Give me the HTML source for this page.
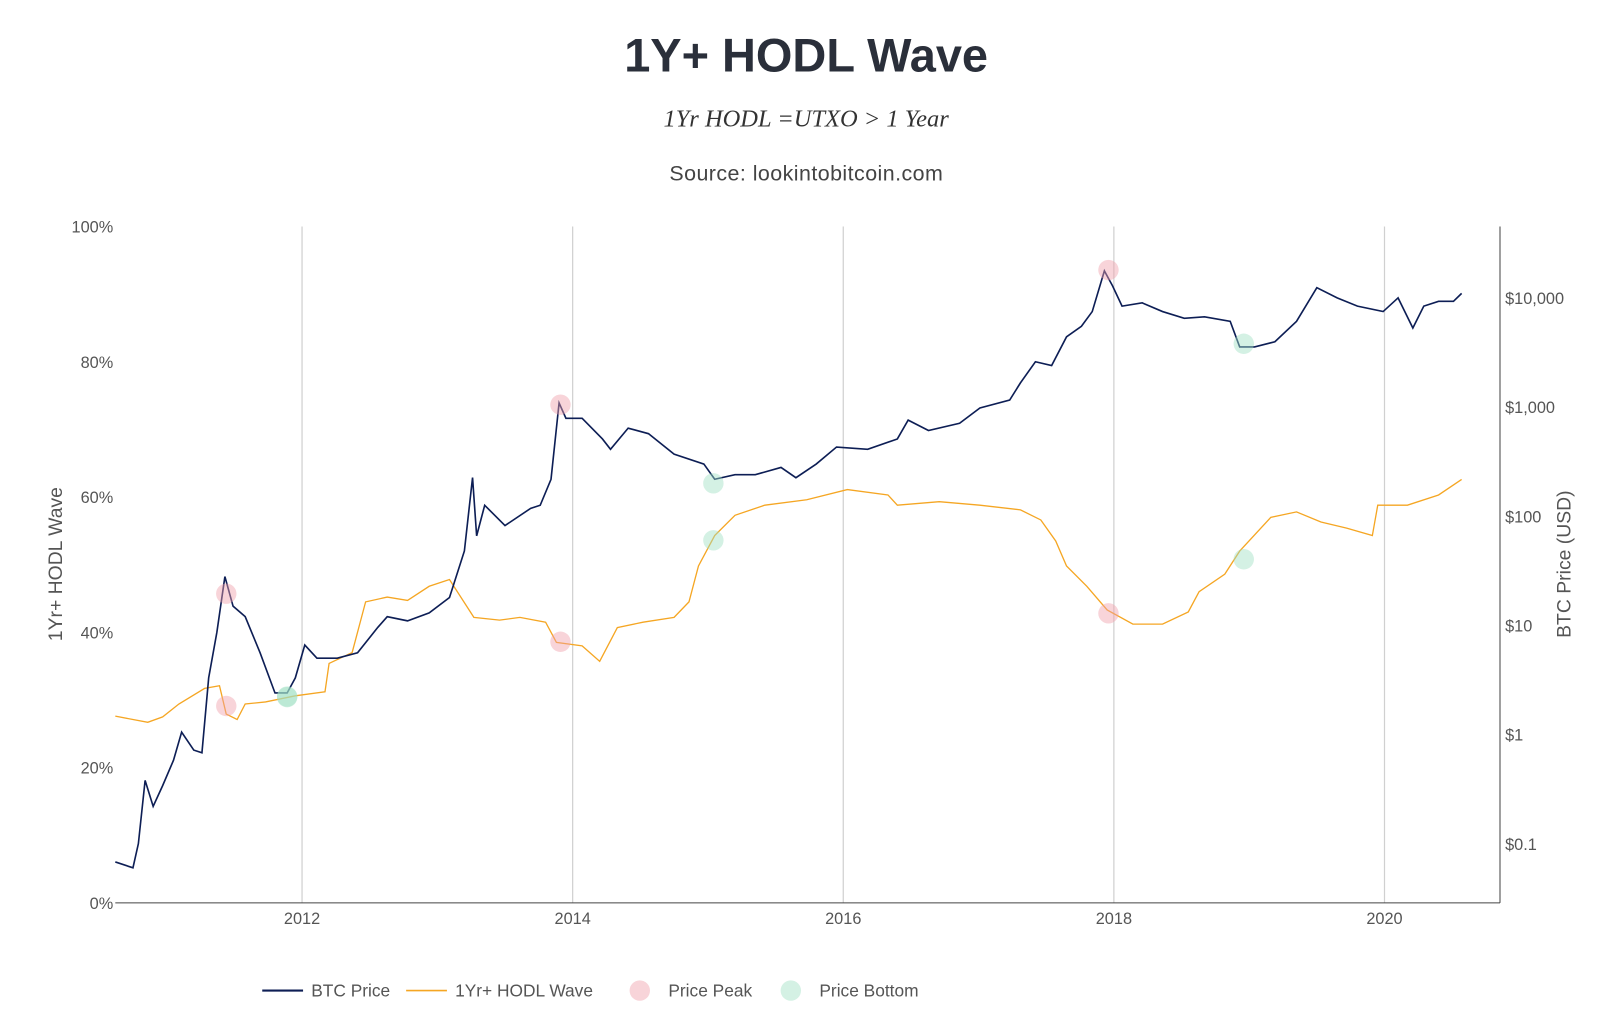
<!DOCTYPE html>
<html><head><meta charset="utf-8"><style>
body{margin:0;background:#fff;width:1600px;height:1013px;overflow:hidden;font-family:"Liberation Sans",sans-serif}
svg{position:absolute;left:0;top:0}
</style></head><body>
<svg id="chart" width="1600" height="1013" viewBox="0 0 1568 993" preserveAspectRatio="none">
<text x="790" y="70" text-anchor="middle" font-size="46" font-weight="bold" fill="#2a2f3a">1Y+ HODL Wave</text>
<text x="790" y="124" text-anchor="middle" font-size="24" font-style="italic" font-family="Liberation Serif,serif" fill="#333">1Yr HODL =UTXO &gt; 1 Year</text>
<text x="790" y="177" text-anchor="middle" font-size="21" fill="#444" textLength="268">Source: lookintobitcoin.com</text>
<g id="grid"></g><g id="axes"></g><g id="marks"></g><g id="legend"></g>
</svg>
<script>
const xTicks=[2012,2014,2016,2018,2020];
const yTicks=[0,20,40,60,80,100];
const priceTicks=[0.1,1,10,100,1000,10000];
const priceTickLabels=["$0.1","$1","$10","$100","$1,000","$10,000"];
const priceDates=[2010.62,2010.75,2010.79,2010.84,2010.90,2010.97,2011.05,2011.11,2011.20,2011.26,2011.31,2011.37,2011.43,2011.49,2011.58,2011.69,2011.80,2011.89,2011.95,2012.02,2012.11,2012.26,2012.41,2012.56,2012.63,2012.78,2012.94,2013.09,2013.20,2013.26,2013.29,2013.35,2013.50,2013.69,2013.76,2013.84,2013.90,2013.95,2014.07,2014.22,2014.28,2014.41,2014.56,2014.75,2014.97,2015.05,2015.20,2015.35,2015.54,2015.65,2015.80,2015.95,2016.18,2016.40,2016.48,2016.63,2016.86,2017.01,2017.23,2017.31,2017.42,2017.54,2017.65,2017.76,2017.84,2017.93,2017.99,2018.06,2018.21,2018.36,2018.52,2018.67,2018.86,2018.93,2019.04,2019.19,2019.35,2019.50,2019.65,2019.80,2019.99,2020.10,2020.21,2020.29,2020.40,2020.51,2020.57];
const priceValues=[0.068,0.06,0.1,0.38,0.22,0.34,0.58,1.05,0.72,0.68,3.3,8.6,28,15,12,5.6,2.4,2.4,3.3,6.6,5,5,5.6,9.6,12,11,13,18,48,226,66,126,82,118,126,218,1090,790,790,510,410,640,570,370,300,218,240,240,280,225,300,430,410,510,760,610,710,980,1160,1670,2600,2400,4400,5500,7500,17700,12900,8400,9000,7500,6500,6700,6100,3550,3550,3960,6100,12400,10000,8400,7500,10000,5300,8400,9300,9300,11000];
const hodlDates=[2010.62,2010.75,2010.86,2010.97,2011.09,2011.28,2011.39,2011.44,2011.52,2011.58,2011.73,2011.95,2012.17,2012.20,2012.37,2012.47,2012.63,2012.78,2012.94,2013.09,2013.27,2013.46,2013.61,2013.80,2013.88,2014.07,2014.20,2014.33,2014.52,2014.75,2014.86,2014.93,2015.05,2015.20,2015.42,2015.73,2016.03,2016.33,2016.40,2016.71,2017.01,2017.31,2017.46,2017.57,2017.65,2017.80,2017.95,2018.14,2018.36,2018.55,2018.63,2018.82,2018.93,2019.16,2019.35,2019.53,2019.72,2019.91,2019.95,2020.17,2020.40,2020.57];
const hodlValues=[27.6,27.1,26.7,27.5,29.4,31.7,32.1,27.9,27.1,29.4,29.7,30.6,31.2,35.4,37,44.5,45.2,44.7,46.8,47.8,42.2,41.8,42.2,41.5,38.5,38,35.7,40.7,41.5,42.2,44.5,49.8,54.3,57.3,58.8,59.6,61.1,60.3,58.8,59.3,58.8,58.1,56.6,53.5,49.8,46.8,43.3,41.2,41.2,43,46,48.6,52,57,57.8,56.3,55.4,54.3,58.8,58.8,60.3,62.6];
const peakDates=[2011.44,2013.91,2017.96];
const peakPrices=[19.5,1050,18000];
const peakHodl=[29.1,38.6,42.8];
const bottomDates=[2011.89,2015.04,2018.96];
const bottomPrices=[2.2,200,3800];
const bottomHodl=[30.5,53.6,50.8];

const NS="http://www.w3.org/2000/svg";
const L=113,R=1470,T=222,B=885;
const xs=d=>296+(d-2012)*132.6;
const yl=v=>B-(v/100)*(B-T);
const yr=p=>720-Math.log10(p)*107;
function mk(tag,attrs,parent,text){const e=document.createElementNS(NS,tag);for(const k in attrs)e.setAttribute(k,attrs[k]);if(text!==undefined)e.textContent=text;document.getElementById(parent).appendChild(e);return e;}

xTicks.forEach(t=>{
 const g=mk('line',{x1:xs(t),x2:xs(t),y1:T,y2:B,stroke:'#d0d0d0','stroke-width':1.2},'grid');
 
 
 const l=mk('text',{x:xs(t),y:906,'text-anchor':'middle','font-size':16,fill:'#555'},'axes',String(t));
 
 
});
yTicks.forEach(t=>{
 const l=mk('text',{x:111,y:yl(t)+6,'text-anchor':'end','font-size':16,fill:'#555'},'axes',t+'%');
 
 
});
priceTicks.forEach((t,i)=>{
 const l=mk('text',{x:1475,y:yr(t)+6,'font-size':16,fill:'#555'},'axes',priceTickLabels[i]);
 
 
});
let a=mk('line',{x1:L,x2:R,y1:B,y2:B,stroke:'#444','stroke-width':1},'axes');


a=mk('line',{x1:R,x2:R,y1:T,y2:B,stroke:'#444','stroke-width':1},'axes');


a=mk('text',{x:0,y:0,transform:'translate(61,553) rotate(-90)','text-anchor':'middle','font-size':19,fill:'#555'},'axes','1Yr+ HODL Wave');


a=mk('text',{x:0,y:0,transform:'translate(1539,553) rotate(-90)','text-anchor':'middle','font-size':19,fill:'#555'},'axes','BTC Price (USD)');



let p=mk('polyline',{points:hodlDates.map((d,i)=>xs(d).toFixed(1)+','+yl(hodlValues[i]).toFixed(1)).join(' '),fill:'none',stroke:'#f5a623','stroke-width':1.3},'marks');


p=mk('polyline',{points:priceDates.map((d,i)=>xs(d).toFixed(1)+','+yr(priceValues[i]).toFixed(1)).join(' '),fill:'none',stroke:'#0d1e55','stroke-width':1.6},'marks');


peakDates.forEach((d,i)=>{
 let c=mk('circle',{cx:xs(d),cy:yr(peakPrices[i]),r:10,fill:'rgba(240,160,170,0.45)'},'marks');
 
 
 c=mk('circle',{cx:xs(d),cy:yl(peakHodl[i]),r:10,fill:'rgba(240,160,170,0.45)'},'marks');
 
 
});
bottomDates.forEach((d,i)=>{
 let c=mk('circle',{cx:xs(d),cy:yr(bottomPrices[i]),r:10,fill:'rgba(160,225,195,0.45)'},'marks');
 
 
 c=mk('circle',{cx:xs(d),cy:yl(bottomHodl[i]),r:10,fill:'rgba(160,225,195,0.45)'},'marks');
 
 
});

let e=mk('line',{x1:257,x2:297,y1:971,y2:971,stroke:'#0d1e55','stroke-width':2},'legend');


e=mk('text',{x:305,y:977,'font-size':17,fill:'#555'},'legend','BTC Price');


e=mk('line',{x1:398,x2:438,y1:971,y2:971,stroke:'#f5a623','stroke-width':1.5},'legend');


e=mk('text',{x:446,y:977,'font-size':17,fill:'#555'},'legend','1Yr+ HODL Wave');


e=mk('circle',{cx:627,cy:971,r:10,fill:'rgba(240,160,170,0.45)'},'legend');


e=mk('text',{x:655,y:977,'font-size':17,fill:'#555'},'legend','Price Peak');


e=mk('circle',{cx:775,cy:971,r:10,fill:'rgba(160,225,195,0.45)'},'legend');


e=mk('text',{x:803,y:977,'font-size':17,fill:'#555'},'legend','Price Bottom');


</script>
</body></html>
